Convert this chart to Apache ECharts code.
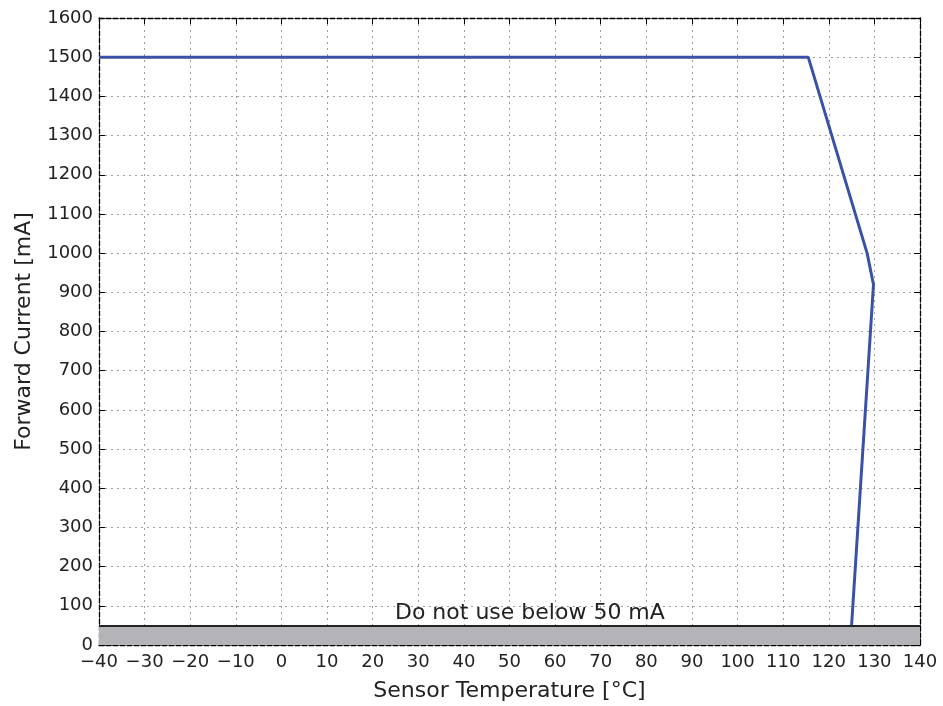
<!DOCTYPE html>
<html><head><meta charset="utf-8">
<script src="https://cdn.jsdelivr.net/npm/echarts@6/dist/echarts.min.js"></script>
<style>html,body{margin:0;padding:0;background:#fff}#c{width:943px;height:706px}</style>
</head><body><div id="c"></div>
<script>
const temps = [-40, 115.5, 128.4, 129.8, 125];
const currents = [1500, 1500, 1000, 920, 50];
const limitCurrent = 50;
const limitText = 'Do not use below 50 mA';
const limitTextX = 25;
const xTitle = 'Sensor Temperature [°C]';
const yTitle = 'Forward Current [mA]';

const font = 'DejaVu Sans';
const fmt = v => (v < 0 ? '\u2212' + Math.abs(v) : String(v));
const frame = {show: true, onZero: false, lineStyle: {color: '#000', width: 1.3, type: [5, 2]}};
const ticksIn = {show: true, inside: true, length: 6, lineStyle: {color: '#000', width: 1}};
const grid = {show: true, lineStyle: {color: '#a0a0a0', type: [2, 4], width: 1}};

const chart = echarts.init(document.getElementById('c'));
chart.setOption({
  animation: false,
  grid: {left: 99, right: 23, top: 18, bottom: 61, containLabel: false, outerBoundsMode: 'none'},
  xAxis: [
    {type: 'value', min: -40, max: 140, interval: 10, position: 'bottom',
     axisLine: frame, axisTick: ticksIn, splitLine: grid,
     axisLabel: {formatter: fmt, color: '#222', fontFamily: font, fontSize: 18, margin: 8},
     name: xTitle, nameLocation: 'middle', nameGap: 35,
     nameTextStyle: {color: '#222', fontFamily: font, fontSize: 22}},
    {type: 'value', min: -40, max: 140, interval: 10, position: 'top',
     axisLine: frame, axisTick: ticksIn, splitLine: {show: false}, axisLabel: {show: false}}
  ],
  yAxis: [
    {type: 'value', min: 0, max: 1600, interval: 100, position: 'left',
     axisLine: frame, axisTick: ticksIn, splitLine: grid,
     axisLabel: {formatter: v => String(v), color: '#222', fontFamily: font, fontSize: 18, margin: 6},
     name: yTitle, nameLocation: 'middle', nameGap: 64,
     nameTextStyle: {color: '#222', fontFamily: font, fontSize: 22}},
    {type: 'value', min: 0, max: 1600, interval: 100, position: 'right',
     axisLine: frame, axisTick: ticksIn, splitLine: {show: false}, axisLabel: {show: false}}
  ],
  series: [
    {type: 'line', data: [], silent: true,
     markArea: {silent: true, itemStyle: {color: '#b3b3b8', opacity: 1},
       data: [[{yAxis: 0}, {yAxis: limitCurrent}]]},
     markLine: {silent: true, symbol: 'none', label: {show: false},
       lineStyle: {color: '#222', width: 2, type: 'solid'},
       data: [{yAxis: limitCurrent}]},
     markPoint: {silent: true, symbol: 'rect', symbolSize: 1, itemStyle: {color: 'rgba(0,0,0,0)'},
       data: [{coord: [limitTextX, limitCurrent]}],
       label: {show: true, formatter: limitText, position: [0, -1], align: 'left', verticalAlign: 'bottom',
         color: '#222', fontFamily: font, fontSize: 22}}
    },
    {type: 'line', data: temps.map((t, i) => [t, currents[i]]), symbol: 'none',
     lineStyle: {color: '#3a52a5', width: 3}, z: 5}
  ]
});
</script></body></html>
